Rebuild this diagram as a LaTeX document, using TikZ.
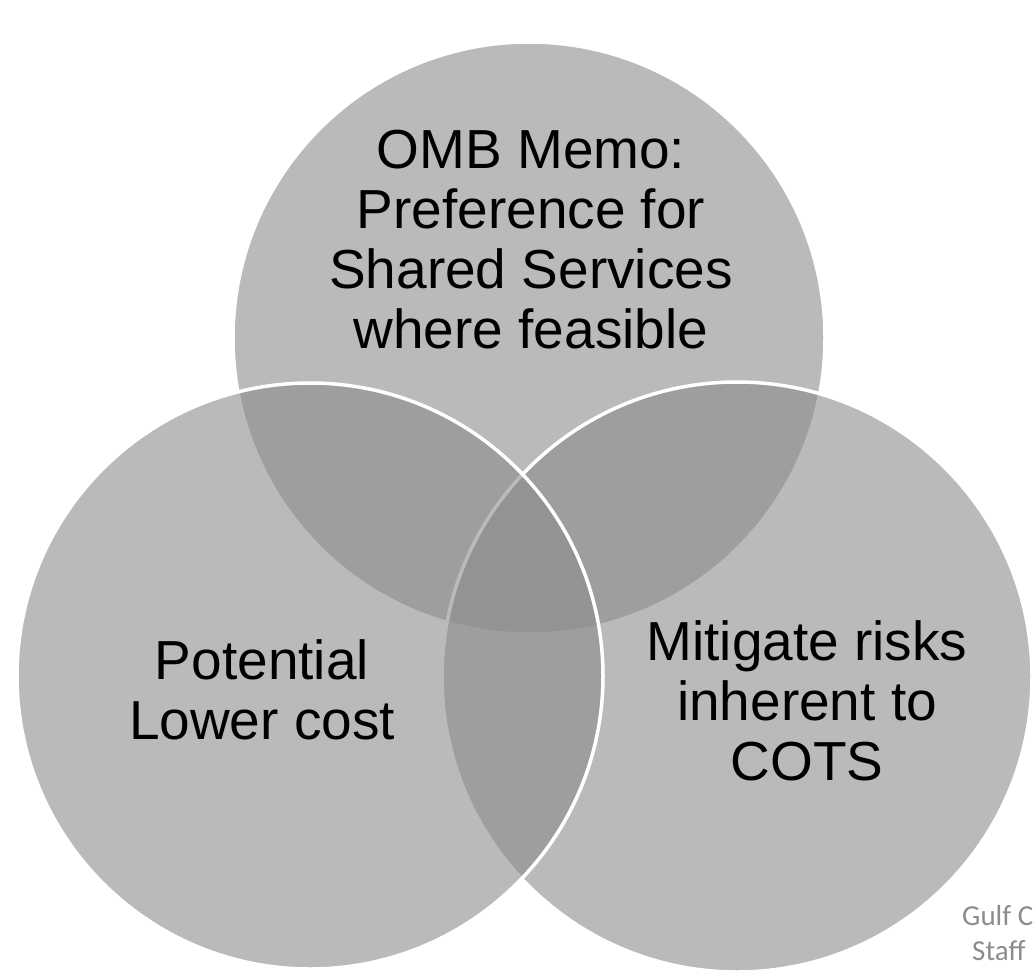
\documentclass[tikz,border=0pt]{standalone}
\usepackage{fontspec}
\setmainfont{Liberation Sans}
\newfontfamily\notefont{Carlito}

\begin{document}
\begin{tikzpicture}[x=1pt,y=-1pt,
	venn/.style={fill=black!45,fill opacity=0.6,draw=white,draw opacity=1,line width=3.5pt},
	label/.style={align=center,font=\fontsize{55}{60}\selectfont,text=black,inner sep=0pt}]
	\useasboundingbox (0,0) rectangle (1034,974);
	\coordinate (omb) at (529,338);
	\coordinate (cost) at (310,676);
	\coordinate (cots) at (737,677);
	\draw[venn] (omb) circle[radius=296];
	\draw[venn] (cots) circle[radius=295];
	\draw[venn] (cost) circle[radius=293];
	\node[label] (ombtext) at (531,240) {OMB Memo:\\Preference for\\Shared Services\\where feasible};
	\node[label] (costtext) at (262,690) {Potential\\Lower cost};
	\node[label] (cotstext) at (807,701) {Mitigate risks\\inherent to\\COTS};
	\node[anchor=base west,inner sep=0pt,text=black!45,font=\notefont\fontsize{29}{35}\selectfont] (gulf) at (962,925) {Gulf C};
	\node[anchor=base west,inner sep=0pt,text=black!45,font=\notefont\fontsize{29}{35}\selectfont] (staff) at (972,960) {Staff};
\end{tikzpicture}
\end{document}
